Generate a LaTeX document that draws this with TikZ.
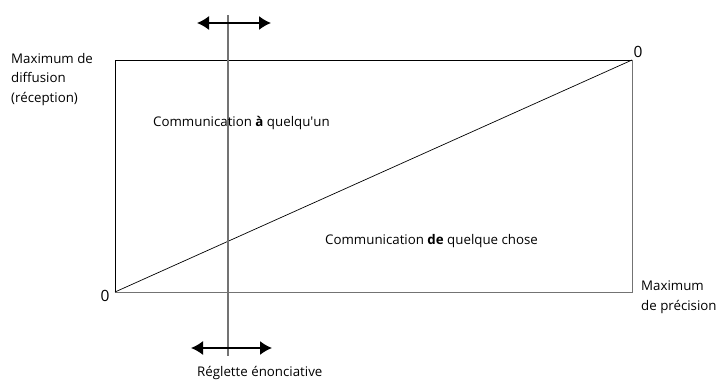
\documentclass[tikz,border=0pt]{standalone}
\usepackage{fontspec}
\setmainfont{Open Sans}
\usetikzlibrary{arrows.meta}

\begin{document}
\begin{tikzpicture}[x=1pt, y=-1pt,
    texte/.style={font=\fontsize{13.3}{19.5}\selectfont, inner sep=0pt, align=left},
    zero/.style={font=\fontsize{15.5}{18}\selectfont, inner sep=0pt},
    bordnoir/.style={black, line width=0.9pt},
    bordgris/.style={black!55, line width=0.9pt},
    reglette/.style={black!55, line width=1.2pt},
    fleche/.style={line width=1.5pt, {Latex[length=12pt,width=14pt]}-{Latex[length=12pt,width=14pt]}}]
                \useasboundingbox (0,0) rectangle (718,383);
                % coins du cadre
                \coordinate (O) at (115,292);
                \coordinate (H) at (115,60);
                \coordinate (K) at (632,60);
                \coordinate (P) at (632,292);
                % reglette et ses fleches
                \coordinate (R1) at (228,15);
                \coordinate (R2) at (228,356);
                \coordinate (A1) at (197,23);
                \coordinate (A2) at (271,23);
                \coordinate (B1) at (191,348);
                \coordinate (B2) at (272,348);
                \draw[bordnoir] (O) -- (H) -- (K);
                \draw[bordgris] (K) -- (P) -- (O);
                \draw[black, line width=0.7pt] (O) -- (K);
                \draw[reglette] (R1) -- (R2);
                \draw[fleche] (A1) -- (A2);
                \draw[fleche] (B1) -- (B2);
                % textes
                \node[texte, anchor=north west] (diff) at (11,53) {Maximum de\\diffusion\\(réception)};
                \node[texte, anchor=north west] (prec) at (641,281) {Maximum\\de précision};
                \node[zero] (zero1) at (105,296) {0};
                \node[zero] (zero2) at (638,52) {0};
                \node[texte, anchor=west] (comA) at (153,123) {Communication \textbf{à} quelqu\textquotesingle un};
                \node[texte, anchor=west] (comDe) at (325,241) {Communication \textbf{de} quelque chose};
                \node[texte, anchor=west] (regl) at (197,373) {Réglette énonciative};
            \end{tikzpicture}
\end{document}
